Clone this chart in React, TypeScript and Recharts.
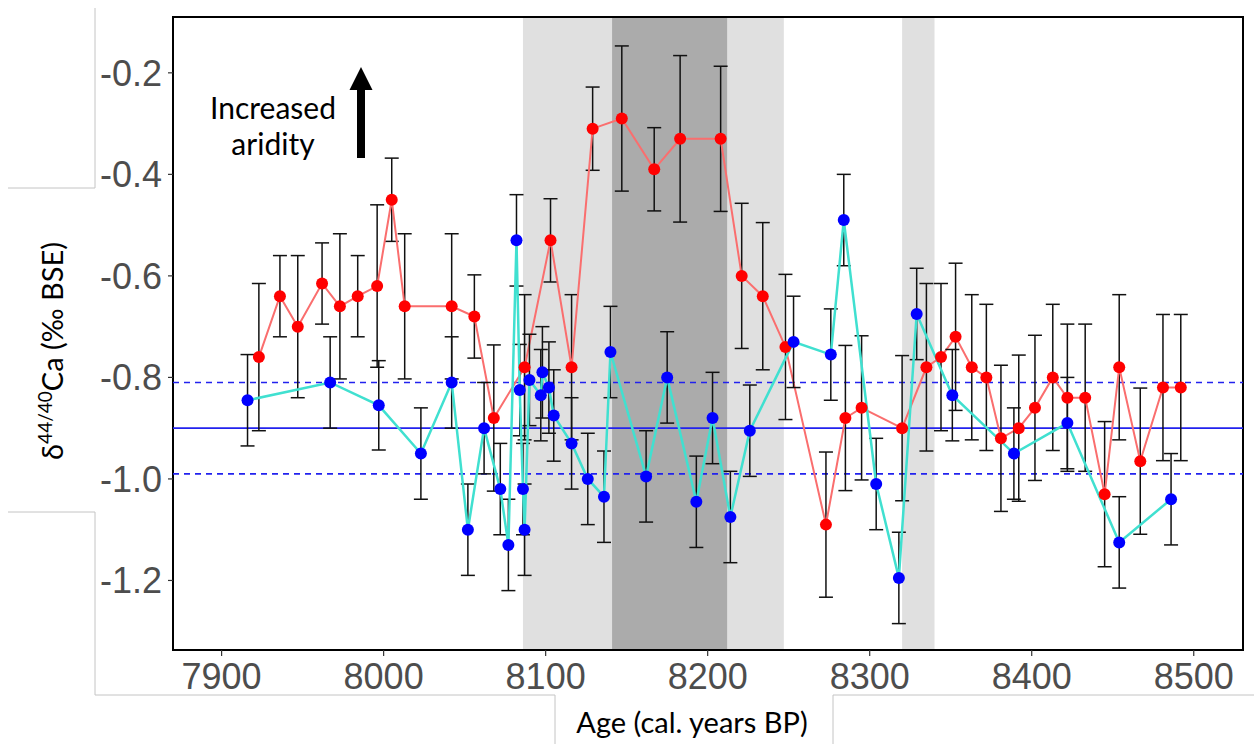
import React from 'react';
import {
  ComposedChart,
  Line,
  XAxis,
  YAxis,
  ErrorBar,
  ReferenceArea,
  ReferenceLine,
} from 'recharts';

// ---- data ----
const redAge = [
  7923, 7936, 7947, 7962, 7973, 7984, 7996, 8005, 8013, 8042, 8056, 8068, 8087, 8103, 8116,
  8129, 8147, 8167, 8183, 8208, 8221, 8234, 8248, 8273, 8285, 8295, 8320, 8335, 8344, 8353,
  8363, 8372, 8381, 8392, 8402, 8413, 8422, 8433, 8445, 8454, 8467, 8481, 8492,
];
const redVal = [
  -0.76, -0.64, -0.70, -0.615, -0.66, -0.64, -0.62, -0.45, -0.66, -0.66, -0.68, -0.88, -0.78, -0.53, -0.78,
  -0.31, -0.29, -0.39, -0.33, -0.33, -0.60, -0.64, -0.74, -1.09, -0.88, -0.86, -0.90, -0.78, -0.76, -0.72,
  -0.78, -0.80, -0.92, -0.90, -0.86, -0.80, -0.84, -0.84, -1.03, -0.78, -0.965, -0.82, -0.82,
];
const redErr = [
  0.145, 0.08, 0.14, 0.08, 0.143, 0.08, 0.16, 0.082, 0.143, 0.143, 0.082, 0.144, 0.143, 0.082, 0.143,
  0.082, 0.143, 0.082, 0.164, 0.143, 0.143, 0.145, 0.143, 0.143, 0.143, 0.142, 0.143, 0.165, 0.145, 0.145,
  0.143, 0.144, 0.144, 0.144, 0.143, 0.144, 0.145, 0.145, 0.143, 0.143, 0.144, 0.144, 0.144,
];

const blueAge = [
  7916, 7967, 7997, 8023, 8042, 8052, 8062, 8072, 8077, 8082, 8084, 8086, 8087, 8090, 8097,
  8098, 8102, 8105, 8116, 8126, 8136, 8140, 8162, 8175, 8193, 8203, 8214, 8226, 8253, 8276,
  8284, 8304, 8318, 8329, 8351, 8389, 8422, 8454, 8486,
];
const blueVal = [
  -0.845, -0.81, -0.855, -0.95, -0.81, -1.10, -0.90, -1.02, -1.13, -0.53, -0.825, -1.02, -1.10, -0.805, -0.835,
  -0.79, -0.82, -0.875, -0.93, -1.00, -1.035, -0.75, -0.995, -0.80, -1.045, -0.88, -1.075, -0.905, -0.73, -0.755,
  -0.49, -1.01, -1.195, -0.675, -0.835, -0.95, -0.89, -1.125, -1.04,
];
const blueErr = [
  0.09, 0.09, 0.088, 0.09, 0.09, 0.09, 0.09, 0.09, 0.09, 0.09, 0.09, 0.09, 0.09, 0.09, 0.09,
  0.09, 0.09, 0.09, 0.09, 0.09, 0.09, 0.09, 0.09, 0.09, 0.09, 0.09, 0.09, 0.09, 0.09, 0.09,
  0.09, 0.09, 0.09, 0.09, 0.09, 0.09, 0.09, 0.09, 0.09,
];

const meanValue = -0.9;
const bandUpper = -0.81;
const bandLower = -0.99;

const lightBands = [
  [8086, 8247],
  [8320, 8340],
];
const darkBand = [8141, 8212];

const xTicks = [7900, 8000, 8100, 8200, 8300, 8400, 8500];
const yTicks = [-1.2, -1.0, -0.8, -0.6, -0.4, -0.2];
const xDomain: [number, number] = [7870, 8530.4];
const yDomain: [number, number] = [-1.337, -0.09];

const redData = redAge.map((age, i) => ({ age, v: redVal[i], e: redErr[i] }));
const blueData = blueAge.map((age, i) => ({ age, v: blueVal[i], e: blueErr[i] }));

const tickFont = "'Liberation Sans', Arial, sans-serif";
const labelFont = "Lato, 'Open Sans', sans-serif";

export default function App() {
  return (
    <div
      style={{
        position: 'absolute',
        left: 0,
        top: 0,
        width: 1254,
        height: 744,
        background: '#ffffff',
        overflow: 'hidden',
      }}
    >
      <ComposedChart width={1254} height={744} margin={{ top: 17, right: 11, bottom: 0, left: 0 }}>
        <XAxis
          dataKey="age"
          type="number"
          domain={xDomain}
          ticks={xTicks}
          allowDataOverflow
          height={94}
          tickSize={6}
          tickMargin={7}
          axisLine={false}
          tickLine={{ stroke: '#333333', strokeWidth: 1.2 }}
          tick={{ fill: '#4D4D4D', fontSize: 36, fontFamily: tickFont }}
          interval={0}
        />
        <YAxis
          type="number"
          domain={yDomain}
          ticks={yTicks}
          allowDataOverflow
          width={173}
          tickSize={5}
          tickMargin={6}
          axisLine={false}
          tickLine={{ stroke: '#333333', strokeWidth: 1.2 }}
          tick={{ fill: '#4D4D4D', fontSize: 36, fontFamily: tickFont }}
          tickFormatter={(v: number) => v.toFixed(1)}
          interval={0}
        />
        {lightBands.map((b, i) => (
          <ReferenceArea
            key={'lb' + i}
            x1={b[0]}
            x2={b[1]}
            fill="#E0E0E0"
            fillOpacity={1}
            stroke="none"
          />
        ))}
        <ReferenceArea x1={darkBand[0]} x2={darkBand[1]} fill="#ABABAB" fillOpacity={1} stroke="none" />
        <ReferenceLine y={meanValue} stroke="#2222EE" strokeWidth={1.6} />
        <ReferenceLine y={bandUpper} stroke="#2222EE" strokeWidth={1.6} strokeDasharray="6 5" />
        <ReferenceLine y={bandLower} stroke="#2222EE" strokeWidth={1.6} strokeDasharray="6 5" />
        <Line
          data={redData}
          dataKey="v"
          type="linear"
          stroke="#FA6E6E"
          strokeWidth={2}
          dot={{ r: 6, fill: '#FF0000', stroke: '#FF0000', strokeWidth: 0 }}
          activeDot={false}
          isAnimationActive={false}
        >
          <ErrorBar dataKey="e" width={7} stroke="#111111" strokeWidth={1.5} direction="y" />
        </Line>
        <Line
          data={blueData}
          dataKey="v"
          type="linear"
          stroke="#40E0D0"
          strokeWidth={2.5}
          dot={{ r: 6, fill: '#0000FF', stroke: '#0000FF', strokeWidth: 0 }}
          activeDot={false}
          isAnimationActive={false}
        >
          <ErrorBar dataKey="e" width={7} stroke="#111111" strokeWidth={1.5} direction="y" />
        </Line>
        <ReferenceArea
          x1={xDomain[0]}
          x2={xDomain[1]}
          y1={yDomain[0]}
          y2={yDomain[1]}
          fill="none"
          stroke="#000000"
          strokeWidth={2}
        />
      </ComposedChart>
      <svg
        width={1254}
        height={744}
        style={{ position: 'absolute', left: 0, top: 0, pointerEvents: 'none' }}
      >
        {/* frame artifacts of the original figure */}
        <path d="M95,8 V188 H8" fill="none" stroke="#C4C4C4" strokeWidth={1} />
        <path d="M8,512 H95 V695 H555 V744" fill="none" stroke="#C4C4C4" strokeWidth={1} />
        <path d="M833,744 V695 H1254" fill="none" stroke="#C4C4C4" strokeWidth={1} />
        {/* annotation */}
        <text x={273} y={119} textAnchor="middle" fontFamily={labelFont} fontSize={30} fill="#000">
          Increased
        </text>
        <text x={273} y={155} textAnchor="middle" fontFamily={labelFont} fontSize={30} fill="#000">
          aridity
        </text>
        <polygon points="361,67 372.5,90 365,90 365,158 357,158 357,90 349.5,90" fill="#000" />
        {/* axis titles */}
        <text
          transform="translate(63,351) rotate(-90)"
          textAnchor="middle"
          fontFamily={labelFont}
          fontSize={29}
          fill="#000"
        >
          δ<tspan fontSize={19} dy={-11}>44/40</tspan>
          <tspan dy={11}>Ca (‰ BSE)</tspan>
        </text>
        <text x={692} y={733} textAnchor="middle" fontFamily={labelFont} fontSize={29} fill="#000">
          Age (cal. years BP)
        </text>
      </svg>
    </div>
  );
}
